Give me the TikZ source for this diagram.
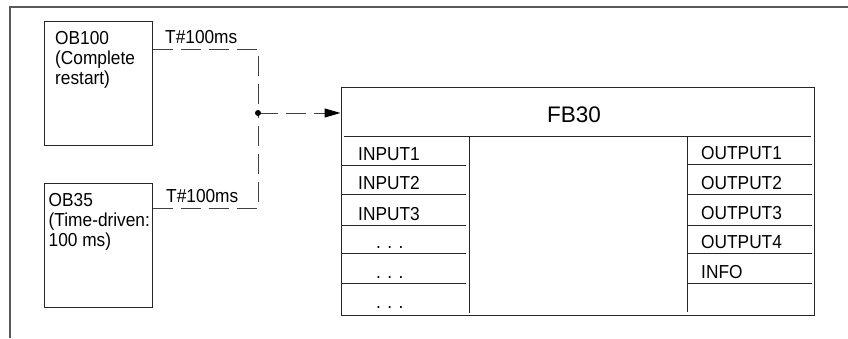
\documentclass[tikz,border=0pt]{standalone}
\usepackage{fontspec}
\setmainfont{Liberation Sans}
\newfontfamily\narrowfont[FakeStretch=0.92]{Liberation Sans}
\usetikzlibrary{arrows.meta}
\begin{document}
\begin{tikzpicture}[x=1pt,y=-1pt,
  txt/.style={anchor=base west, inner sep=0pt, font=\narrowfont\fontsize{18.8}{19.7}\selectfont, align=left},
  box/.style={draw=black!85, line width=1pt, inner sep=0pt},
  ln/.style={draw=black!85, line width=1pt},
  dsh/.style={line width=1pt, draw=black!75, dash pattern=on 20pt off 8pt}]
\useasboundingbox (0,0) rectangle (848,338);
% outer frame
\draw[line width=1.3pt, black!65] (10,338) -- (10,7) -- (848,7);
% OB boxes
\node[box, minimum width=108pt, minimum height=124pt] (ob100) at (98,83) {};
\node[txt] (t100) at (55,84) {OB100\\(Complete\\restart)};
\node[box, minimum width=108pt, minimum height=124pt] (ob35) at (98,245) {};
\node[txt] (t35) at (48.5,246) {OB35\\(Time-driven:\\100 ms)};
% FB30 block
\node[box, minimum width=473pt, minimum height=228pt] (fb) at (577.5,201) {};
\node[anchor=base west, inner sep=0pt, font=\fontsize{22.5}{24}\selectfont] (title) at (547,122.7) {FB30};
\draw[ln] (344,136) -- (811,136);
\draw[ln] (469,136) -- (469,313);
\draw[ln] (687,136) -- (687,312);
\foreach \yy in {165,194,225,253,283} \draw[ln] (341,\yy) -- (466,\yy);
\foreach \yy in {164,194,225,253,283} \draw[ln] (687,\yy) -- (812,\yy);
\node[txt] (in1) at (358,160) {INPUT1};
\node[txt] (in2) at (358,189) {INPUT2};
\node[txt] (in3) at (358,220) {INPUT3};
\node[txt] (d1) at (376,248) {. . .};
\node[txt] (d2) at (376,278) {. . .};
\node[txt] (d3) at (376,308) {. . .};
\node[txt] (o1) at (701,159) {OUTPUT1};
\node[txt] (o2) at (701,189) {OUTPUT2};
\node[txt] (o3) at (701,219) {OUTPUT3};
\node[txt] (o4) at (701,248) {OUTPUT4};
\node[txt] (inf) at (701,278) {INFO};
% labels
\node[txt] (l1) at (165,43) {T\#100ms};
\node[txt] (l2) at (166,202) {T\#100ms};
% connectors
\coordinate (j) at (258,113);
\coordinate (c1) at (258,49);
\coordinate (c2) at (258,208);
\draw[dsh] (c1 -| ob100.east) -- (c1) -- (j);
\draw[dsh] (c2 -| ob35.east) -- (c2) -- (j);
\draw[dsh, -{Triangle[length=16pt,width=9pt,color=black]}] (j) -- (j -| fb.west);
\fill[black] (j) circle (3pt);
\end{tikzpicture}
\end{document}
